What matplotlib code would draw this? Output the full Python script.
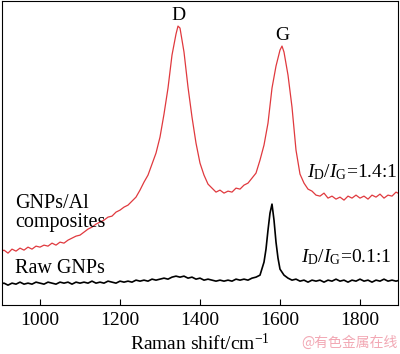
import numpy as np
import matplotlib
matplotlib.use('Agg')
import matplotlib.pyplot as plt

plt.rcParams['font.family'] = 'Liberation Serif'
plt.rcParams['mathtext.fontset'] = 'custom'
plt.rcParams['mathtext.rm'] = 'Liberation Serif'
plt.rcParams['mathtext.it'] = 'Liberation Serif:italic'

# Raman spectrum of GNPs/Al composites (a.u.)
shift_comp = [900, 910, 920, 930, 940, 950, 960, 970, 980, 990,
              1000, 1010, 1020, 1030, 1040, 1050, 1060, 1070, 1080, 1090,
              1100, 1110, 1120, 1130, 1140, 1150, 1160, 1170, 1180, 1190,
              1200, 1210, 1220, 1230, 1240, 1250, 1260, 1270, 1280, 1290,
              1300, 1310, 1320, 1330, 1340, 1345, 1350, 1360, 1370, 1380, 1390,
              1400, 1410, 1420, 1430, 1440, 1450, 1460, 1470, 1480, 1490,
              1500, 1510, 1520, 1530, 1540, 1550, 1560, 1570, 1580, 1590,
              1600, 1605, 1610, 1620, 1630, 1640, 1650, 1660, 1670, 1680, 1690,
              1700, 1710, 1720, 1730, 1740, 1750, 1760, 1770, 1780, 1790,
              1800, 1810, 1820, 1830, 1840, 1850, 1860, 1870, 1880, 1890, 1900]
int_comp = [53, 55, 52, 56, 54, 57, 55, 58, 56, 59,
            58, 60, 59, 62, 60, 63, 62, 65, 67, 69,
            70, 73, 76, 78, 81, 83, 85, 88, 89, 93,
            95, 98, 100, 104, 108, 115, 123, 130, 141, 152,
            168, 191, 217, 250, 271, 279, 277, 253, 218, 188, 162,
            142, 130, 121, 117, 113, 115, 112, 114, 113, 117,
            116, 120, 122, 127, 132, 145, 160, 182, 217, 239,
            255, 259, 253, 230, 198, 155, 131, 122, 116, 114, 110,
            109, 112, 107, 109, 106, 108, 105, 109, 107, 110,
            107, 109, 106, 110, 108, 111, 107, 110, 109, 113, 111]

# Raman spectrum of raw GNPs (a.u.)
shift_raw = [900, 910, 920, 930, 940, 950, 960, 970, 980, 990,
             1000, 1010, 1020, 1030, 1040, 1050, 1060, 1070, 1080, 1090,
             1100, 1110, 1120, 1130, 1140, 1150, 1160, 1170, 1180, 1190,
             1200, 1210, 1220, 1230, 1240, 1250, 1260, 1270, 1280, 1290,
             1300, 1310, 1320, 1330, 1340, 1350, 1360, 1370, 1380, 1390,
             1400, 1410, 1420, 1430, 1440, 1450, 1460, 1470, 1480, 1490,
             1500, 1510, 1520, 1530, 1540, 1550, 1560, 1565, 1570, 1575,
             1580, 1585, 1590, 1595, 1600, 1610, 1620, 1630, 1640, 1650,
             1660, 1670, 1680, 1690, 1700, 1710, 1720, 1730, 1740, 1750,
             1760, 1770, 1780, 1790, 1800, 1810, 1820, 1830, 1840, 1850,
             1860, 1870, 1880, 1890, 1900]
int_raw = [21, 22, 20, 22, 21, 23, 21, 22, 21, 23,
           22, 21, 23, 22, 21, 23, 22, 23, 21, 23,
           22, 23, 22, 24, 22, 23, 22, 24, 23, 22,
           24, 23, 24, 23, 25, 24, 25, 24, 26, 25,
           26, 27, 26, 28, 29, 28, 29, 27, 28, 26,
           27, 25, 26, 25, 24, 25, 24, 25, 24, 26,
           25, 26, 25, 27, 28, 30, 43, 56, 75, 92,
           101, 85, 63, 47, 36, 30, 27, 25, 26, 24,
           25, 23, 25, 24, 25, 23, 25, 24, 26, 24,
           25, 23, 25, 24, 26, 24, 25, 23, 25, 24,
           26, 24, 25, 24, 25]

fig = plt.figure(figsize=(4, 3.54), dpi=100)
ax = fig.add_axes([0.005, 0.138, 0.99, 0.859])

ax.plot(shift_comp, int_comp, color='#e0393e', lw=0.9)
ax.plot(shift_raw, int_raw, color='black', lw=1.2)

ax.set_xlim(905, 1895)
ax.set_ylim(0, 304)
ax.set_xticks([1000, 1200, 1400, 1600, 1800])
ax.set_yticks([])
ax.tick_params(axis='x', direction='in', length=4.5, labelsize=14, pad=5)
for s in ax.spines.values():
    s.set_linewidth(0.8)
ax.set_xlabel('Raman shift/cm$^{-1}$', fontsize=14, labelpad=3)

ax.text(1347, 290, 'D', fontsize=14, ha='center', va='center')
ax.text(1607, 270, 'G', fontsize=14, ha='center', va='center')
ax.text(937, 92, 'GNPs/Al\ncomposites', fontsize=14.5, ha='left', va='center',
        linespacing=0.95)
ax.text(937, 37, 'Raw GNPs', fontsize=14.5, ha='left', va='center')
ax.text(1893, 133, r'$I_{\mathrm{D}}/I_{\mathrm{G}}$=1.4:1', fontsize=14,
        ha='right', va='center')
ax.text(1880, 48, r'$I_{\mathrm{D}}/I_{\mathrm{G}}$=0.1:1', fontsize=14,
        ha='right', va='center')

fig.text(0.993, 0.031, '@有色金属在线', fontsize=10, color='#f2a8b4',
         ha='right', va='center', family=['Noto Sans CJK SC', 'DejaVu Sans'])

fig.savefig('out.png', dpi=100)
